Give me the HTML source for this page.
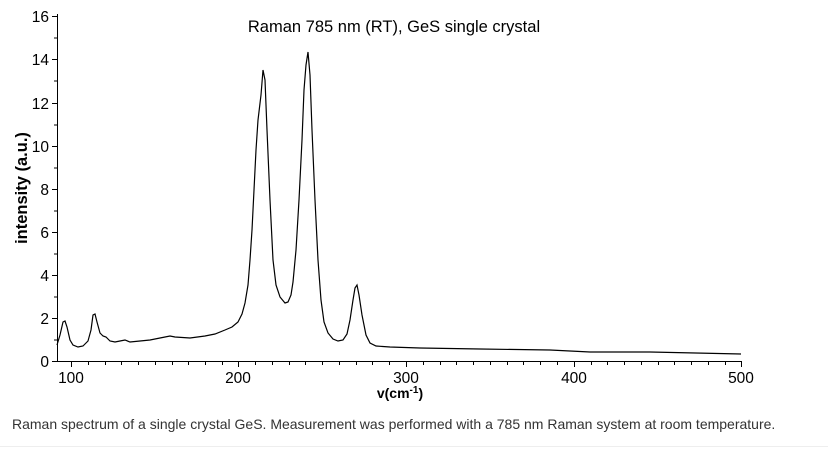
<!DOCTYPE html>
<html><head><style>
body{margin:0;background:#fff;width:828px;height:449px;overflow:hidden;font-family:"Liberation Sans",sans-serif}
</style></head><body>
<svg width="828" height="449" xmlns="http://www.w3.org/2000/svg" font-family="Liberation Sans, sans-serif">
<text x="394" y="32" font-size="16.5" text-anchor="middle">Raman 785 nm (RT), GeS single crystal</text>
<g stroke="#000" stroke-width="1" fill="none">
<line x1="57.5" y1="14" x2="57.5" y2="362"/>
<line x1="57" y1="361.5" x2="742" y2="361.5"/>
<path d="M52 361.5h5M52 318.5h5M52 275.5h5M52 232.5h5M52 189.5h5M52 146.5h5M52 103.5h5M52 59.5h5M52 16.5h5"/>
<path d="M54 340h3M54 297h3M54 254h3M54 211h3M54 168h3M54 125h3M54 81h3M54 38h3"/>
<path d="M71.5 362v5M238.5 362v5M406.5 362v5M574.5 362v5M741.5 362v5"/>
<path d="M88.5 362v3M105.5 362v3M121.5 362v3M138.5 362v3M155.5 362v3M172.5 362v3M188.5 362v3M205.5 362v3M222.5 362v3M255.5 362v3M272.5 362v3M289.5 362v3M305.5 362v3M322.5 362v3M339.5 362v3M356.5 362v3M372.5 362v3M389.5 362v3M423.5 362v3M440.5 362v3M456.5 362v3M473.5 362v3M490.5 362v3M507.5 362v3M523.5 362v3M540.5 362v3M557.5 362v3M591.5 362v3M607.5 362v3M624.5 362v3M641.5 362v3M658.5 362v3M674.5 362v3M691.5 362v3M708.5 362v3M725.5 362v3"/>
</g>
<g font-size="15.5" text-anchor="end">
<text x="49" y="367">0</text><text x="49" y="324">2</text><text x="49" y="281">4</text><text x="49" y="238">6</text><text x="49" y="195">8</text><text x="49" y="152">10</text><text x="49" y="109">12</text><text x="49" y="65">14</text><text x="49" y="22">16</text>
</g>
<g font-size="15.5" text-anchor="middle">
<text x="71" y="383">100</text><text x="238" y="383">200</text><text x="406" y="383">300</text><text x="574" y="383">400</text><text x="741" y="383">500</text>
</g>
<text x="400" y="398" font-size="14" font-weight="bold" text-anchor="middle">v(cm<tspan font-size="10" dy="-5">-1</tspan><tspan dy="5">)</tspan></text>
<text transform="translate(27,188) rotate(-90)" font-size="16.5" font-weight="bold" text-anchor="middle">intensity (a.u.)</text>
<polyline fill="none" stroke="#000" stroke-width="1.2" points="57,345 60,335 63,322 65,321 67,327 70,340 73,345 78,347 83,346 88,341 91,330 93,315 95,314 97,322 100,333 103,336 106,337 110,341 115,342 120,341 125,340 130,342 140,341 150,340 160,338 170,336 175,337 190,338 205,336 215,334 225,330 232,327 238,322 242,314 245,303 248,285 250,260 252,230 254,190 256,150 258,120 261,95 263,70 265,80 267,130 270,200 273,260 276,285 280,297 285,303 288,302 291,295 293,282 296,250 299,200 302,140 304,90 306,65 308,52 310,75 312,130 315,200 318,260 321,300 324,322 328,333 333,339 338,341 343,340 347,334 350,320 353,300 355,288 357,285 359,295 362,315 366,335 370,343 376,346 390,347 420,348 480,349 550,350 590,352 650,352 741,354"/>
<text x="12" y="429" font-size="14" fill="#333">Raman spectrum of a single crystal GeS. Measurement was performed with a 785 nm Raman system at room temperature.</text>
<line x1="0" y1="446.5" x2="828" y2="446.5" stroke="#eee"/>
</svg>
</body></html>
